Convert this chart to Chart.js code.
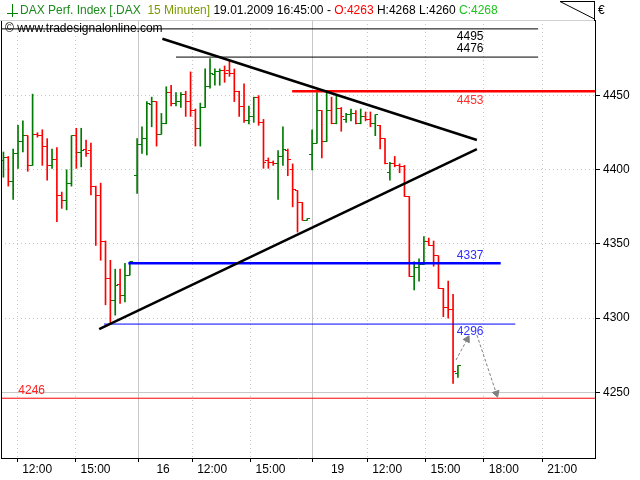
<!DOCTYPE html>
<html>
<head>
<meta charset="utf-8">
<script src="https://cdn.jsdelivr.net/npm/chart.js@4.4.0/dist/chart.umd.min.js"></script>
<style>
  body { margin: 0; background: #fff; }
  #box { position: relative; width: 640px; height: 480px; font-family: "Liberation Sans", Arial, sans-serif; }
  #c { position: absolute; left: 0; top: 0; }
  .hdr { position: absolute; font-size: 12px; line-height: 14px; white-space: pre; color: #000; }
</style>
</head>
<body>
<div id="box">
  <canvas id="c" width="640" height="480"></canvas>
  <svg style="position:absolute;left:0;top:0" width="640" height="22">
    <line x1="12.5" y1="4" x2="12.5" y2="17" stroke="#008000" stroke-width="1"/>
    <line x1="7" y1="13.5" x2="18" y2="13.5" stroke="#008000" stroke-width="1"/>
    <line x1="560" y1="1.5" x2="594.5" y2="1.5" stroke="#000" stroke-width="1"/>
    <line x1="560" y1="1.5" x2="594.5" y2="19" stroke="#000" stroke-width="1"/>
    <line x1="594.5" y1="1" x2="594.5" y2="21" stroke="#000" stroke-width="1"/>
  </svg>
  <div class="hdr" style="left:20px;top:3px"><span style="color:#1d8a1d">DAX Perf. Index [.DAX</span>  <span style="color:#7a9a00">15 Minuten]</span> 19.01.2009 16:45:00 - <span style="color:#ff0000">O:4263</span> H:4268 L:4260 <span style="color:#1cc41c">C:4268</span></div>
  <div class="hdr" style="left:5px;top:21px">© www.tradesignalonline.com</div>
  <div class="hdr" style="left:598px;top:3px">€</div>
</div>
<script>
// sessions 15.01., 16.01., 19.01.2009 - 15 minute bars, x = bar slot
const sessionFirstSlot = [0.5, 28, 64];
const sessionBars = [27, 36, 31];

const open = [
  // 15.01.
  4406, 4408, 4392, 4411, 4419, 4423, 4403, 4424, 4423, 4416, 4403, 4407, 4383, 4379, 4391, 4423, 4412, 4414, 4413, 4389, 4383, 4352, 4327, 4312, 4323, 4315, 4329,
  // 16.01.
  4396, 4417, 4421, 4444, 4446, 4424, 4431, 4452, 4445, 4446, 4451, 4446, 4440, 4428, 4442, 4456, 4464, 4466, 4467, 4467, 4465, 4453, 4443, 4433, 4436, 4449, 4432, 4406, 4405, 4404, 4409, 4413, 4400, 4386, 4378, 4366,
  // 19.01.
  4410, 4418, 4440, 4419, 4440, 4431, 4441, 4434, 4437, 4438, 4431, 4436, 4434, 4431, 4430, 4421, 4398, 4404, 4403, 4402, 4382, 4328, 4334, 4336, 4352, 4349, 4342, 4320, 4307, 4306, 4263
];
const high = [
  4412, 4409, 4414, 4430, 4433, 4423, 4451, 4425, 4427, 4421, 4414, 4415, 4385, 4400, 4423, 4428, 4428, 4420, 4418, 4389, 4391, 4352, 4339, 4333, 4333, 4337, 4338,
  4421, 4429, 4446, 4449, 4446, 4438, 4456, 4457, 4452, 4452, 4453, 4466, 4441, 4445, 4468, 4475, 4468, 4468, 4470, 4474, 4468, 4453, 4458, 4443, 4449, 4450, 4434, 4408, 4406, 4413, 4429, 4414, 4404, 4386, 4378, 4367,
  4427, 4452, 4440, 4452, 4449, 4450, 4442, 4438, 4441, 4440, 4441, 4439, 4439, 4437, 4430, 4421, 4405, 4409, 4404, 4403, 4382, 4338, 4340, 4355, 4354, 4352, 4342, 4320, 4325, 4316, 4268
];
const low = [
  4395, 4389, 4380, 4401, 4412, 4399, 4403, 4422, 4403, 4393, 4401, 4365, 4374, 4373, 4389, 4401, 4402, 4409, 4383, 4349, 4339, 4309, 4297, 4302, 4310, 4311, 4329,
  4384, 4411, 4410, 4429, 4416, 4424, 4431, 4443, 4443, 4442, 4436, 4436, 4416, 4416, 4442, 4455, 4457, 4457, 4459, 4463, 4446, 4436, 4432, 4431, 4432, 4430, 4401, 4401, 4403, 4380, 4403, 4396, 4375, 4358, 4366, 4366,
  4400, 4418, 4408, 4419, 4431, 4431, 4426, 4432, 4433, 4431, 4431, 4433, 4429, 4423, 4414, 4404, 4393, 4402, 4398, 4382, 4328, 4319, 4325, 4336, 4349, 4335, 4320, 4301, 4300, 4256, 4260
];
const close = [
  4408, 4392, 4411, 4419, 4423, 4403, 4424, 4423, 4416, 4403, 4407, 4383, 4379, 4391, 4423, 4412, 4413, 4411, 4389, 4383, 4352, 4327, 4312, 4322, 4315, 4329, 4338,
  4417, 4421, 4445, 4446, 4424, 4431, 4452, 4445, 4446, 4451, 4446, 4440, 4428, 4442, 4456, 4465, 4466, 4467, 4465, 4465, 4453, 4443, 4433, 4436, 4449, 4432, 4405, 4405, 4404, 4409, 4414, 4407, 4387, 4378, 4366, 4367,
  4418, 4440, 4419, 4440, 4431, 4441, 4436, 4437, 4438, 4431, 4436, 4434, 4431, 4437, 4421, 4404, 4404, 4403, 4402, 4382, 4328, 4334, 4336, 4352, 4349, 4342, 4320, 4307, 4306, 4264, 4268
];

// axis ticks
const xTickSlots = [3.33, 15.33, 28.2, 39.33, 51.33, 64.1, 75.33, 87.33, 99.33, 111.33];
const xTickLabels = ['12:00', '15:00', '    16', '12:00', '15:00', '    19', '12:00', '15:00', '18:00', '21:00'];
const daySeparators = [28.2, 64.1];
const yTickValues = [4250, 4300, 4350, 4400, 4450];

// drawn levels (support / resistance) and their extent in slots
const levelValues = [4495, 4476, 4453, 4337, 4296, 4246];
const levelFrom = [0, 36.0, 59.9, 26.2, 21.2, 0];
const levelTo = [110.5, 110.5, 122.2, 102.8, 105.8, 122.2];

// trend lines [slot, price]
const downTrend = [[33.2, 4488.4], [97.9, 4420.1]];
const upTrend = [[20.2, 4292.6], [97.9, 4414.0]];
// projection arrows
const arrowUp = [[93.6, 4271.7], [95.9, 4285.7]];
const arrowDown = [[97.9, 4288.6], [101.9, 4249.3]];

// ---- styles
const GREEN = '#007a00', RED = '#ff0000';
const levelColors = ['#000', '#000', '#ff0000', '#0000ff', '#0000ff', '#ff0000'];
const levelWidths = [1, 1, 2.5, 2.5, 1, 1];
const levelTextColors = ['#000', '#000', '#ff3030', '#3030ff', '#3030ff', '#ff2020'];
const levelLabelSlot = [93.77, 93.77, 93.77, 93.77, 93.77, 3.56];
const levelLabelDy = [7.5, -8, 9, -7.5, 7.5, -7.5];

const slots = [];
sessionFirstSlot.forEach((s0, d) => {
  for (let i = 0; i < sessionBars[d]; i++) slots.push(s0 + i);
});
const up = close.map((c, i) => c >= open[i]);

function tickImg(color, side) {
  const cv = document.createElement('canvas');
  cv.width = 6; cv.height = 1;
  const g = cv.getContext('2d');
  g.fillStyle = color;
  if (side === 'open') g.fillRect(0, 0, 3, 1); else g.fillRect(3, 0, 3, 1);
  return cv;
}
const openG = tickImg(GREEN, 'open'), openR = tickImg(RED, 'open');
const closeG = tickImg(GREEN, 'close'), closeR = tickImg(RED, 'close');

const pts = (arr) => arr.map(p => ({x: p[0], y: p[1]}));

function arrowRotation(c) {
  const d = c.dataset.data, xs = c.chart.scales.x, ys = c.chart.scales.y;
  const dx = xs.getPixelForValue(d[1].x) - xs.getPixelForValue(d[0].x);
  const dy = ys.getPixelForValue(d[1].y) - ys.getPixelForValue(d[0].y);
  return Math.atan2(dx, -dy) * 180 / Math.PI;
}

const datasets = [];
datasets.push({type: 'line', data: pts(downTrend), borderColor: '#000', borderWidth: 2.5, pointRadius: 0});
datasets.push({type: 'line', data: pts(upTrend), borderColor: '#000', borderWidth: 2.5, pointRadius: 0});
levelValues.forEach((v, i) => {
  datasets.push({type: 'line', data: [{x: levelFrom[i], y: v}, {x: levelTo[i], y: v}],
    borderColor: levelColors[i], borderWidth: levelWidths[i], pointRadius: 0});
});
[arrowUp, arrowDown].forEach(a => {
  datasets.push({type: 'line', data: pts(a), borderColor: '#808080', borderWidth: 1, borderDash: [3, 2],
    pointRadius: [0, 4], pointStyle: 'triangle', pointBackgroundColor: '#808080', pointBorderColor: '#808080',
    pointRotation: arrowRotation});
});
datasets.push({type: 'scatter', data: slots.map((s, i) => ({x: s, y: open[i]})),
  pointStyle: up.map(u => u ? openG : openR), pointRadius: 2});
datasets.push({type: 'scatter', data: slots.map((s, i) => ({x: s, y: close[i]})),
  pointStyle: up.map(u => u ? closeG : closeR), pointRadius: 2});
datasets.push({type: 'bar', data: slots.map((s, i) => ({x: s, y: [low[i], high[i]]})),
  backgroundColor: up.map(u => u ? GREEN : RED), barThickness: 1, borderWidth: 0, grouped: false});

const levelLabels = {
  id: 'levelLabels',
  afterDatasetsDraw(chart) {
    const {ctx, scales: {x, y}} = chart;
    ctx.save();
    ctx.font = '12px "Liberation Sans", Arial, sans-serif';
    ctx.textBaseline = 'middle';
    levelValues.forEach((v, i) => {
      ctx.fillStyle = levelTextColors[i];
      ctx.fillText(String(v), x.getPixelForValue(levelLabelSlot[i]), y.getPixelForValue(v) + levelLabelDy[i]);
    });
    ctx.restore();
  }
};

const frame = {
  id: 'frame',
  afterDraw(chart) {
    const {ctx, chartArea: a} = chart;
    ctx.save();
    ctx.lineWidth = 1;
    ctx.strokeStyle = '#d0d0d0';
    ctx.beginPath(); ctx.moveTo(0, a.top + 0.5); ctx.lineTo(a.right, a.top + 0.5); ctx.stroke();
    ctx.strokeStyle = '#000';
    ctx.beginPath(); ctx.moveTo(a.left + 0.5, a.top + 1); ctx.lineTo(a.left + 0.5, a.bottom); ctx.stroke();
    ctx.restore();
  }
};

Chart.defaults.font.family = '"Liberation Sans", Arial, sans-serif';
Chart.defaults.font.size = 12;
Chart.defaults.color = '#000';

new Chart(document.getElementById('c'), {
  type: 'scatter',
  data: {datasets: datasets},
  options: {
    responsive: false,
    animation: false,
    events: [],
    layout: {autoPadding: false, padding: {top: 20, left: 1, right: 0, bottom: 0}},
    plugins: {legend: {display: false}, tooltip: {enabled: false}},
    scales: {
      x: {
        type: 'linear', min: 0, max: 122.2, offset: false,
        afterBuildTicks: s => { s.ticks = xTickSlots.map(v => ({value: v})); },
        afterFit: s => { s.height = 22; },
        ticks: {callback: (v, i) => xTickLabels[i], align: 'start', labelOffset: 5, padding: 0,
          autoSkip: false, maxRotation: 0, font: {size: 12}, color: '#000'},
        grid: {color: '#c8c8c8', tickColor: '#000', tickLength: 4, offset: false},
        border: {color: '#000', width: 1, dash: c => (c.tick && daySeparators.includes(c.tick.value)) ? [] : [1, 3]}
      },
      y: {
        type: 'linear', position: 'right', min: 4205.7, max: 4501,
        afterBuildTicks: s => { s.ticks = yTickValues.map(v => ({value: v})); },
        afterFit: s => { s.width = 45; },
        ticks: {callback: v => String(v), padding: 3, font: {size: 12}, color: '#000'},
        grid: {color: '#c8c8c8', tickColor: '#000', tickLength: 5},
        border: {color: '#000', width: 1, dash: c => (c.tick && c.tick.value === 4250) ? [] : [1, 3]}
      }
    }
  },
  plugins: [levelLabels, frame]
});
</script>
</body>
</html>
